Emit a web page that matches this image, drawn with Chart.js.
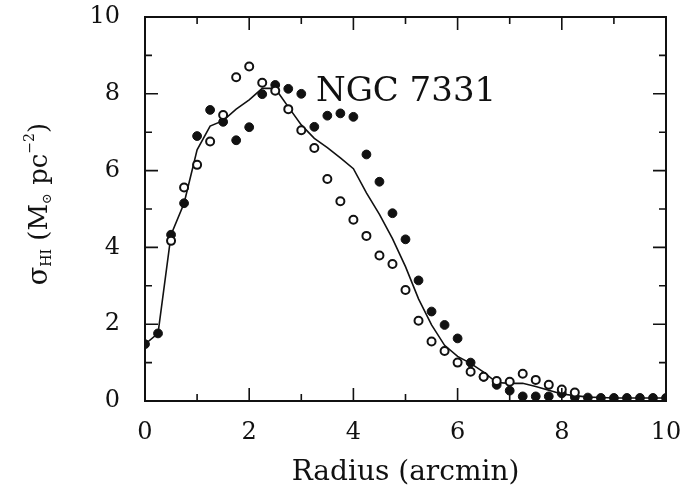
<!DOCTYPE html>
<html>
<head>
<meta charset="utf-8">
<script src="https://cdn.jsdelivr.net/npm/chart.js@4.4.1/dist/chart.umd.min.js"></script>
<style>
  html, body { margin: 0; background: #fff; }
  #wrap { width: 687px; height: 493px; }
</style>
</head>
<body>
<div id="wrap"><canvas id="myChart"></canvas></div>
<script>
// radius (arcmin), sampled every 0.25'
const radius = [0, 0.25, 0.5, 0.75, 1, 1.25, 1.5, 1.75, 2, 2.25, 2.5, 2.75, 3, 3.25, 3.5, 3.75, 4, 4.25, 4.5, 4.75,
  5, 5.25, 5.5, 5.75, 6, 6.25, 6.5, 6.75, 7, 7.25, 7.5, 7.75, 8, 8.25, 8.5, 8.75, 9, 9.25, 9.5, 9.75, 10];

// filled circles
const sideA = [1.48, 1.76, 4.33, 5.15, 6.9, 7.58, 7.27, 6.79, 7.13, 7.99, 8.23, 8.13, 8.0, 7.14, 7.43, 7.49, 7.4, 6.42, 5.71, 4.89,
  4.21, 3.14, 2.33, 1.98, 1.63, 1.0, 0.63, 0.42, 0.27, 0.12, 0.12, 0.12, 0.2, 0.1, 0.09, 0.08, 0.08, 0.08, 0.08, 0.08, 0.08];

// open circles
const sideB = [null, null, 4.17, 5.56, 6.15, 6.76, 7.45, 8.43, 8.71, 8.29, 8.08, 7.6, 7.05, 6.59, 5.78, 5.2, 4.72, 4.3, 3.79, 3.57,
  2.89, 2.09, 1.55, 1.3, 1.0, 0.76, 0.63, 0.52, 0.5, 0.71, 0.55, 0.42, 0.3, 0.22, null, null, null, null, null, null, null];

// azimuthal average (solid line)
const average = [1.48, 1.76, 4.33, 5.15, 6.54, 7.16, 7.3, 7.6, 7.84, 8.14, 8.14, 7.66, 7.19, 6.84, 6.6, 6.33, 6.05, 5.42, 4.86, 4.23,
  3.5, 2.66, 1.98, 1.45, 1.16, 0.98, 0.75, 0.48, 0.46, 0.46, 0.38, 0.28, 0.18, 0.14, 0.1, 0.09, 0.08, 0.08, 0.08, 0.08, 0.08];

const xTicks = [0, 2, 4, 6, 8, 10];
const yTicks = [0, 2, 4, 6, 8, 10];

const toPoints = vals => radius.map((r, i) => ({ x: r, y: vals[i] })).filter(p => p.y !== null);

const serif = "'DejaVu Serif', serif";

// inward ticks on all four sides + frame, and the label text
const frame = {
  id: 'frame',
  afterDatasetsDraw(chart) {
    const { ctx, chartArea: a, scales } = chart;
    ctx.save();
    ctx.strokeStyle = '#111';
    ctx.lineWidth = 2;
    ctx.strokeRect(a.left, a.top, a.right - a.left, a.bottom - a.top);
    ctx.lineWidth = 1.6;
    for (let v = 0; v <= 10; v++) {
      const len = v % 2 === 0 ? 13 : 7;
      const px = scales.x.getPixelForValue(v);
      const py = scales.y.getPixelForValue(v);
      ctx.beginPath();
      ctx.moveTo(px, a.bottom); ctx.lineTo(px, a.bottom - len);
      ctx.moveTo(px, a.top); ctx.lineTo(px, a.top + len);
      ctx.moveTo(a.left, py); ctx.lineTo(a.left + len, py);
      ctx.moveTo(a.right, py); ctx.lineTo(a.right - len, py);
      ctx.stroke();
    }
    // galaxy name
    ctx.fillStyle = '#111';
    ctx.font = "34px " + serif;
    ctx.textBaseline = 'alphabetic';
    ctx.fillText('NGC 7331', scales.x.getPixelForValue(3.28), scales.y.getPixelForValue(7.8));

    // y axis title with sub/superscripts
    ctx.translate(47, 204);
    ctx.rotate(-Math.PI / 2);
    const parts = [
      ['σ', 27, 0], ['HI', 14, 4], [' (M', 26, 0], ['⊙', 13, 4], [' pc', 26, 0], ['−2', 14, -13], [')', 26, 0]
    ];
    let total = 0;
    parts.forEach(p => { ctx.font = p[1] + 'px ' + serif; total += ctx.measureText(p[0]).width; });
    let x = -total / 2;
    parts.forEach(p => {
      ctx.font = p[1] + 'px ' + serif;
      ctx.fillText(p[0], x, p[2]);
      x += ctx.measureText(p[0]).width;
    });
    ctx.restore();
  }
};

new Chart(document.getElementById('myChart'), {
  type: 'scatter',
  data: {
    datasets: [
      {
        label: 'filled',
        data: toPoints(sideA),
        pointRadius: 4.4,
        pointBackgroundColor: '#111',
        pointBorderColor: '#111',
        pointBorderWidth: 1,
        order: 1
      },
      {
        label: 'open',
        data: toPoints(sideB),
        pointRadius: 4,
        pointBackgroundColor: '#fff',
        pointBorderColor: '#111',
        pointBorderWidth: 2,
        order: 0
      },
      {
        label: 'average',
        data: toPoints(average),
        showLine: true,
        borderColor: '#111',
        borderWidth: 1.6,
        pointRadius: 0,
        tension: 0,
        order: 2
      }
    ]
  },
  plugins: [frame],
  options: {
    responsive: true,
    maintainAspectRatio: false,
    animation: false,
    events: [],
    layout: { padding: { top: 17, right: 21, left: 0, bottom: 0 } },
    plugins: {
      legend: { display: false },
      tooltip: { enabled: false }
    },
    scales: {
      x: {
        type: 'linear',
        min: 0,
        max: 10,
        afterFit: s => { s.height = 92; s.paddingLeft = 0; s.paddingRight = 0; },
        afterBuildTicks: s => { s.ticks = xTicks.map(v => ({ value: v })); },
        grid: { display: false },
        border: { display: false },
        ticks: { color: '#111', padding: 9, font: { family: serif, size: 24 } },
        title: {
          display: true,
          text: 'Radius (arcmin)',
          color: '#111',
          font: { family: serif, size: 28 },
          padding: { top: 0, bottom: 3 }
        }
      },
      y: {
        type: 'linear',
        min: 0,
        max: 10,
        afterFit: s => { s.width = 145; s.paddingTop = 0; s.paddingBottom = 0; },
        afterBuildTicks: s => { s.ticks = yTicks.map(v => ({ value: v })); },
        grid: { display: false },
        border: { display: false },
        ticks: { color: '#111', padding: 17, font: { family: serif, size: 24 } }
      }
    }
  }
});
</script>
</body>
</html>
